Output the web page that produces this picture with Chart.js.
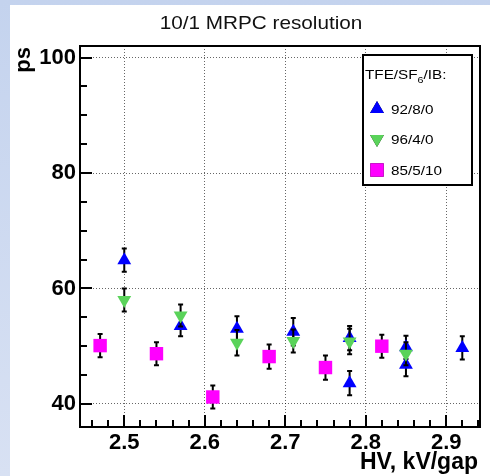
<!DOCTYPE html>
<html>
<head>
<meta charset="utf-8">
<script src="https://cdn.jsdelivr.net/npm/chart.js@4.4.0/dist/chart.umd.min.js"></script>
<style>
  html, body { margin: 0; padding: 0; background: #fff; }
  #plot { display: block; }
</style>
</head>
<body>
<canvas id="plot" width="490" height="476"></canvas>
<script>
// axis ticks
const xTicks = [2.5, 2.6, 2.7, 2.8, 2.9];
const yTicks = [40, 60, 80, 100];
const xMinor = [2.46, 2.48, 2.52, 2.54, 2.56, 2.58, 2.62, 2.64, 2.66, 2.68, 2.72, 2.74, 2.76, 2.78, 2.82, 2.84, 2.86, 2.88, 2.92, 2.94];
const yMinor = [45, 50, 55, 65, 70, 75, 85, 90, 95];

// TFE/SF6/IB = 92/8/0
const hvA = [2.50, 2.57, 2.64, 2.71, 2.78, 2.78, 2.85, 2.85, 2.92];
const resA = [64.9, 53.5, 53.0, 52.5, 51.4, 43.6, 49.8, 46.8, 49.7];
const errA = [2.0, 1.8, 2.2, 2.4, 2.1, 2.1, 2.0, 2.0, 2.0];

// 96/4/0
const hvB = [2.50, 2.57, 2.64, 2.71, 2.78, 2.85];
const resB = [58.0, 55.3, 50.6, 50.9, 50.8, 48.7];
const errB = [2.0, 1.9, 2.2, 2.0, 2.2, 2.0];

// 85/5/10
const hvC = [2.47, 2.54, 2.61, 2.68, 2.75, 2.82];
const resC = [50.1, 48.7, 41.2, 48.2, 46.3, 50.0];
const errC = [2.0, 2.0, 2.0, 2.1, 2.1, 2.0];

const labels = ["92/8/0", "96/4/0", "85/5/10"];
const FONT = "'Liberation Sans', Arial, Helvetica, sans-serif";

const toPoints = (xs, ys) => xs.map((x, i) => ({ x: x, y: ys[i] }));

const drawText = (ctx, text, x, y, font, align, sx) => {
  ctx.save();
  ctx.font = font;
  ctx.textAlign = align;
  ctx.textBaseline = "alphabetic";
  ctx.translate(x, y);
  ctx.scale(sx, 1);
  ctx.fillText(text, 0, 0);
  ctx.restore();
};

// page background + white pad
const padBackground = {
  id: "padBackground",
  beforeDraw(chart) {
    const ctx = chart.ctx;
    const g = ctx.createLinearGradient(0, 0, 0, chart.height);
    g.addColorStop(0, "#c4d3ee");
    g.addColorStop(1, "#d8e1f3");
    ctx.save();
    ctx.fillStyle = g;
    ctx.fillRect(0, 0, chart.width, chart.height);
    ctx.fillStyle = "#ffffff";
    ctx.fillRect(10, 5, chart.width - 10, chart.height - 5);
    ctx.restore();
  },
};

// vertical error bars, drawn before each graph's markers
const errorBars = {
  id: "errorBars",
  beforeDatasetDraw(chart, args) {
    const ds = chart.data.datasets[args.index];
    const yScale = chart.scales.y;
    const ctx = chart.ctx;
    ctx.save();
    ctx.setLineDash([]);
    ctx.strokeStyle = "#000";
    ctx.lineWidth = 2;
    args.meta.data.forEach((pt, i) => {
      const v = ds.data[i].y;
      const e = ds.errors[i];
      const top = yScale.getPixelForValue(v + e);
      const bot = yScale.getPixelForValue(v - e);
      ctx.beginPath();
      ctx.moveTo(pt.x, top);
      ctx.lineTo(pt.x, bot);
      ctx.moveTo(pt.x - 2.5, top);
      ctx.lineTo(pt.x + 2.5, top);
      ctx.moveTo(pt.x - 2.5, bot);
      ctx.lineTo(pt.x + 2.5, bot);
      ctx.stroke();
    });
    ctx.restore();
  },
};

// ROOT style frame, inward ticks, titles and legend
const rootFrame = {
  id: "rootFrame",
  afterDraw(chart) {
    const ctx = chart.ctx;
    const a = chart.chartArea;
    const xs = chart.scales.x;
    const ys = chart.scales.y;

    ctx.save();
    ctx.setLineDash([]);
    ctx.strokeStyle = "#000000";
    ctx.fillStyle = "#000000";
    ctx.lineWidth = 2;
    ctx.strokeRect(a.left, a.top, a.right - a.left, a.bottom - a.top);

    // inward tick marks as filled rects
    const b = Math.round(a.bottom);
    const l = Math.round(a.left);
    xTicks.forEach((v) => {
      const px = Math.round(xs.getPixelForValue(v));
      ctx.fillRect(px - 1, b - 12, 2, 12);
    });
    xMinor.forEach((v) => {
      const px = Math.round(xs.getPixelForValue(v));
      ctx.fillRect(px - 1, b - 7, 2, 7);
    });
    yTicks.forEach((v) => {
      const py = Math.round(ys.getPixelForValue(v));
      ctx.fillRect(l, py - 1, 12, 2);
    });
    yMinor.forEach((v) => {
      const py = Math.round(ys.getPixelForValue(v));
      ctx.fillRect(l, py - 1, 7, 2);
    });

    ctx.fillStyle = "#111";
    drawText(ctx, "10/1 MRPC resolution", 261, 28.5, "18.5px " + FONT, "center", 1.12);
    ctx.fillStyle = "#000";
    drawText(ctx, "HV, kV/gap", 478, 468.5, "bold 23px " + FONT, "right", 1);

    ctx.save();
    ctx.translate(30, 47);
    ctx.rotate(-Math.PI / 2);
    ctx.font = "bold 22px " + FONT;
    ctx.textAlign = "right";
    ctx.fillText("ps", 0, 0);
    ctx.restore();

    // legend box
    const lx = 363, ly = 55, lw = 109, lh = 130;
    ctx.fillStyle = "#fff";
    ctx.fillRect(lx, ly, lw, lh);
    ctx.lineWidth = 2;
    ctx.strokeRect(lx, ly, lw, lh);

    ctx.fillStyle = "#000";
    const lf = "13.5px " + FONT;
    const sx = 1.13;
    ctx.font = lf;
    let hx = lx + 2;
    const hy = 78.5;
    drawText(ctx, "TFE/SF", hx, hy, lf, "left", sx);
    hx += ctx.measureText("TFE/SF").width * sx;
    ctx.font = "9.5px " + FONT;
    drawText(ctx, "6", hx, hy + 4, "9.5px " + FONT, "left", sx);
    hx += ctx.measureText("6").width * sx;
    drawText(ctx, "/IB:", hx, hy, lf, "left", sx);

    const rowY = [109, 139, 170];
    chart.data.datasets.forEach((ds, i) => {
      Chart.helpers.drawPoint(ctx, {
        pointStyle: ds.pointStyle,
        radius: ds.pointRadius,
        rotation: ds.pointRotation || 0,
        borderWidth: 0,
      }, 377, rowY[i]);
      ctx.fillStyle = ds.backgroundColor;
      ctx.fill();
      ctx.fillStyle = "#000";
      drawText(ctx, ds.label, 391, rowY[i] + 5, lf, "left", sx);
    });
    ctx.restore();
  },
};

const makeSet = (label, xs, ys, errs, color, style, radius, rot, order) => ({
  label: label,
  data: toPoints(xs, ys),
  errors: errs,
  backgroundColor: color,
  borderWidth: 0,
  pointStyle: style,
  pointRadius: radius,
  pointHoverRadius: radius,
  pointRotation: rot,
  pointBorderWidth: 0,
  showLine: false,
  order: order,
});

const data = {
  datasets: [
    makeSet(labels[0], hvA, resA, errA, "#0000ff", "triangle", 8, 0, 3),
    makeSet(labels[1], hvB, resB, errB, "#5ad35a", "triangle", 8, 180, 2),
    makeSet(labels[2], hvC, resC, errC, "#ff00ff", "rect", 9.5, 0, 1),
  ],
};

const tickFont = { family: FONT, size: 22, weight: "bold" };

new Chart(document.getElementById("plot"), {
  type: "scatter",
  data: data,
  plugins: [padBackground, errorBars, rootFrame],
  options: {
    responsive: false,
    animation: false,
    layout: { padding: { left: 0, top: 46, right: 10, bottom: 0 } },
    plugins: {
      legend: { display: false },
      title: { display: false },
      tooltip: { enabled: false },
    },
    scales: {
      x: {
        type: "linear",
        min: 2.445,
        max: 2.942,
        afterFit: (scale) => { scale.height = 49; },
        afterBuildTicks: (scale) => { scale.ticks = xTicks.map((v) => ({ value: v })); },
        grid: { color: "rgba(0,0,0,0.6)", lineWidth: 1, drawTicks: false },
        border: { display: true, color: "#000", width: 2, dash: [1, 2] },
        ticks: {
          color: "#000",
          font: tickFont,
          padding: 3,
          maxRotation: 0,
          autoSkip: false,
          callback: (v) => v.toFixed(1),
        },
      },
      y: {
        min: 36,
        max: 102,
        afterFit: (scale) => { scale.width = 80; },
        afterBuildTicks: (scale) => { scale.ticks = yTicks.map((v) => ({ value: v })); },
        grid: { color: "rgba(0,0,0,0.6)", lineWidth: 1, drawTicks: false },
        border: { display: true, color: "#000", width: 2, dash: [1, 2] },
        ticks: {
          color: "#000",
          font: tickFont,
          padding: 4,
          autoSkip: false,
          callback: (v) => String(v),
        },
      },
    },
  },
});
</script>
</body>
</html>
